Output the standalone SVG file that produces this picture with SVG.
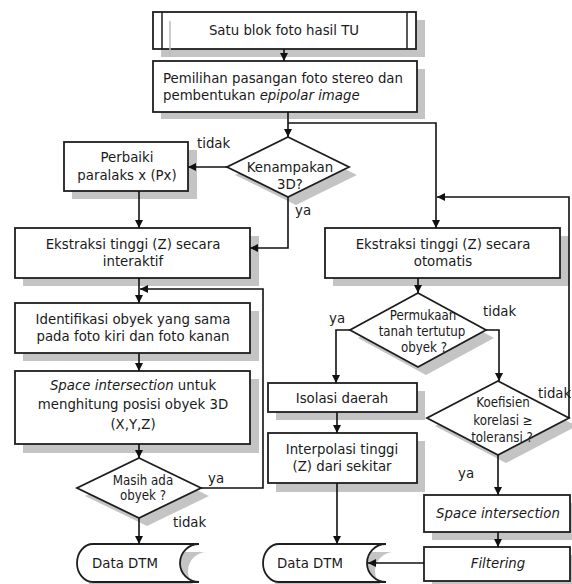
<svg xmlns="http://www.w3.org/2000/svg" width="572" height="584" viewBox="0 0 572 584">
<defs>
<marker id="ah" viewBox="0 0 10 10" refX="10" refY="5" markerWidth="8" markerHeight="8" markerUnits="userSpaceOnUse" orient="auto">
<path d="M0,0 L10,5 L0,10 z" fill="#111"/>
</marker>
</defs>
<style>
.sh{fill:#c4c4c4;stroke:none}
.bx{fill:#fff;stroke:#1e1e1e;stroke-width:1.8}
.t{font-family:"DejaVu Sans Condensed","DejaVu Sans",sans-serif;font-size:14.8px;fill:#1a1a1a;text-anchor:middle}
.s{font-size:13.2px}
.l{text-anchor:start}
.i{font-style:italic}
.c{fill:none;stroke:#111;stroke-width:1.6}
</style>
<rect width="572" height="584" fill="#fff"/>

<g id="n1">
<rect class="sh" x="161" y="20" width="264" height="37"/>
<rect class="bx" x="153" y="12" width="263" height="37"/>
<line x1="162" y1="12" x2="162" y2="49" stroke="#1e1e1e" stroke-width="1.5"/>
<line x1="407" y1="12" x2="407" y2="49" stroke="#1e1e1e" stroke-width="1.5"/>
<line x1="170" y1="21" x2="170" y2="57" stroke="#bbb" stroke-width="1.5"/>
<text class="t" x="284" y="35">Satu blok foto hasil TU</text>
</g>

<g id="n2">
<rect class="sh" x="161" y="69" width="264" height="50"/>
<rect class="bx" x="153" y="61" width="264" height="51"/>
<text class="t l" x="163" y="83">Pemilihan pasangan foto stereo dan</text>
<text class="t l" x="163" y="100">pembentukan <tspan class="i">epipolar image</tspan></text>
</g>

<g id="n3">
<polygon class="sh" points="296,145 357,175 296,205 235,175"/>
<polygon class="bx" points="288,137 349,167 288,197 227,167"/>
<text class="t" x="290" y="172">Kenampakan</text>
<text class="t" x="290" y="189">3D?</text>
</g>

<g id="n4">
<rect class="sh" x="72" y="150" width="125" height="49"/>
<rect class="bx" x="64" y="142" width="124" height="49"/>
<text class="t" x="127" y="162">Perbaiki</text>
<text class="t" x="127" y="180">paralaks x (Px)</text>
</g>

<g id="n5">
<rect class="sh" x="23" y="236" width="236" height="50"/>
<rect class="bx" x="15" y="228" width="235" height="50"/>
<text class="t" x="133" y="249">Ekstraksi tinggi (Z) secara</text>
<text class="t" x="133" y="266">interaktif</text>
</g>

<g id="n6">
<rect class="sh" x="23" y="311" width="236" height="50"/>
<rect class="bx" x="15" y="303" width="235" height="50"/>
<text class="t" x="133" y="324">Identifikasi obyek yang sama</text>
<text class="t" x="133" y="341">pada foto kiri dan foto kanan</text>
</g>

<g id="n7">
<rect class="sh" x="23" y="379" width="236" height="74"/>
<rect class="bx" x="15" y="371" width="235" height="73"/>
<text class="t" x="133" y="390"><tspan class="i">Space intersection</tspan> untuk</text>
<text class="t" x="133" y="409">menghitung posisi obyek 3D</text>
<text class="t" x="133" y="429">(X,Y,Z)</text>
</g>

<g id="n8">
<polygon class="sh" points="147,466 209,496 147,526 85,496"/>
<polygon class="bx" points="139,458 201,488 139,518 77,488"/>
<text class="t s" x="143" y="485">Masih ada</text>
<text class="t s" x="143" y="500">obyek ?</text>
</g>

<g id="n9">
<path class="sh" d="M101,552 H207 A19,19 0 0 0 207,590 H101 A16,19 0 0 1 101,552 Z"/>
<path class="bx" d="M93,544 H199 A19,19 0 0 0 199,582 H93 A16,19 0 0 1 93,544 Z"/>
<text class="t l" x="92" y="568">Data DTM</text>
</g>

<g id="n10">
<rect class="sh" x="333" y="236" width="236" height="50"/>
<rect class="bx" x="325" y="228" width="235" height="50"/>
<text class="t" x="443" y="249">Ekstraksi tinggi (Z) secara</text>
<text class="t" x="443" y="266">otomatis</text>
</g>

<g id="n11">
<polygon class="sh" points="426,301 494,338 426,375 358,338"/>
<polygon class="bx" points="418,293 486,330 418,367 350,330"/>
<text class="t s" x="423" y="320">Permukaan</text>
<text class="t s" x="422" y="336">tanah tertutup</text>
<text class="t s" x="424" y="352">obyek ?</text>
</g>

<g id="n12">
<rect class="sh" x="276" y="391" width="149" height="29"/>
<rect class="bx" x="268" y="383" width="149" height="29"/>
<text class="t" x="342" y="403">Isolasi daerah</text>
</g>

<g id="n13">
<rect class="sh" x="276" y="441" width="149" height="51"/>
<rect class="bx" x="268" y="433" width="149" height="50"/>
<text class="t" x="342" y="454">Interpolasi tinggi</text>
<text class="t" x="342" y="471">(Z) dari sekitar</text>
</g>

<g id="n14">
<polygon class="sh" points="506,389 577,426 506,463 435,426"/>
<polygon class="bx" points="498,381 569,418 498,455 427,418"/>
<text class="t s" x="503" y="407">Koefisien</text>
<text class="t s" x="503" y="425">korelasi ≥</text>
<text class="t s" x="502" y="442">toleransi ?</text>
</g>

<g id="n15">
<rect class="sh" x="432" y="503" width="146" height="37"/>
<rect class="bx" x="424" y="495" width="146" height="37"/>
<text class="t i" x="498" y="518">Space intersection</text>
</g>

<g id="n16">
<rect class="sh" x="432" y="555" width="146" height="34"/>
<rect class="bx" x="424" y="547" width="146" height="34"/>
<text class="t i" x="498" y="568">Filtering</text>
</g>

<g id="n17">
<path class="sh" d="M287,552 H394 A19,19 0 0 0 394,590 H287 A16,19 0 0 1 287,552 Z"/>
<path class="bx" d="M279,544 H386 A19,19 0 0 0 386,582 H279 A16,19 0 0 1 279,544 Z"/>
<text class="t l" x="277" y="568">Data DTM</text>
</g>

<g id="connectors">
<line class="c" x1="284" y1="49" x2="284" y2="61" marker-end="url(#ah)"/>
<line class="c" x1="288" y1="112" x2="288" y2="137" marker-end="url(#ah)"/>
<polyline class="c" points="288,123 436,123 436,228" marker-end="url(#ah)"/>
<line class="c" x1="227" y1="167" x2="188" y2="167" marker-end="url(#ah)"/>
<line class="c" x1="139" y1="191" x2="139" y2="228" marker-end="url(#ah)"/>
<polyline class="c" points="288,197 288,248 250,248" marker-end="url(#ah)"/>
<line class="c" x1="139" y1="278" x2="139" y2="303" marker-end="url(#ah)"/>
<line class="c" x1="139" y1="353" x2="139" y2="371" marker-end="url(#ah)"/>
<line class="c" x1="139" y1="444" x2="139" y2="458" marker-end="url(#ah)"/>
<polyline class="c" points="201,488 263,488 263,289 140,289" marker-end="url(#ah)"/>
<line class="c" x1="139" y1="518" x2="139" y2="544" marker-end="url(#ah)"/>
<line class="c" x1="418" y1="278" x2="418" y2="293" marker-end="url(#ah)"/>
<polyline class="c" points="350,330 336,330 336,383" marker-end="url(#ah)"/>
<polyline class="c" points="486,330 499,330 499,381" marker-end="url(#ah)"/>
<polyline class="c" points="569,418 569,197 437,197" marker-end="url(#ah)"/>
<line class="c" x1="498" y1="455" x2="498" y2="495" marker-end="url(#ah)"/>
<line class="c" x1="337" y1="412" x2="337" y2="433" marker-end="url(#ah)"/>
<line class="c" x1="337" y1="483" x2="337" y2="544" marker-end="url(#ah)"/>
<line class="c" x1="498" y1="532" x2="498" y2="547" marker-end="url(#ah)"/>
<line class="c" x1="424" y1="563" x2="368" y2="563" stroke="#444" marker-end="url(#ah)"/>
<text class="t l" x="197" y="148">tidak</text>
<text class="t l" x="295" y="215">ya</text>
<text class="t l" x="208" y="483">ya</text>
<text class="t l" x="173" y="527">tidak</text>
<text class="t l" x="329" y="323">ya</text>
<text class="t l" x="483" y="316">tidak</text>
<text class="t l" x="538" y="398">tidak</text>
<text class="t l" x="458" y="478">ya</text>
</g>
</svg>
